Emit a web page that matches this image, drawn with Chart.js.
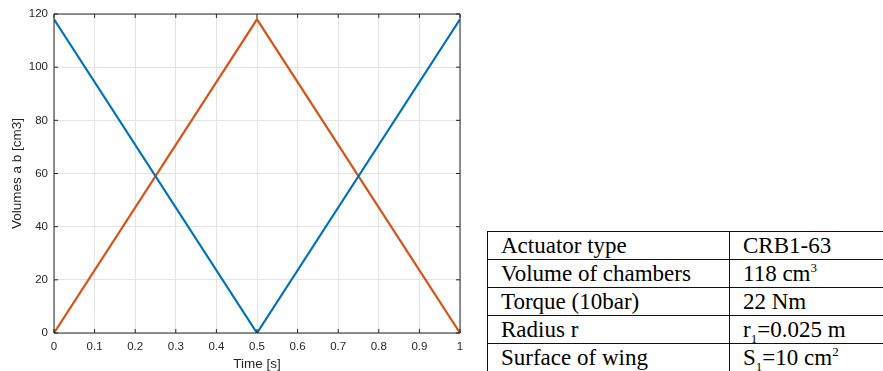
<!DOCTYPE html>
<html>
<head>
<meta charset="utf-8">
<script src="https://cdn.jsdelivr.net/npm/chart.js@4.4.1/dist/chart.umd.min.js"></script>
<style>
    html, body {
        margin: 0;
        padding: 0;
        width: 883px;
        height: 371px;
        overflow: hidden;
        background: #fff;
    }
    #plotBox {
        position: absolute;
        left: 0;
        top: 0;
        width: 471px;
        height: 371px;
    }
    #specs {
        position: absolute;
        left: 487px;
        top: 231px;
        width: 440px;
        border-collapse: collapse;
        font-family: "Liberation Serif", "Times New Roman", serif;
        font-size: 23px;
        color: #000;
    }
    #specs td {
        border: 1.5px solid #111;
        height: 27px;
        padding: 0 0 0 13px;
        line-height: 27px;
        white-space: nowrap;
    }
    #specs td:first-child {
        width: 228px;
    }
    #specs sup, #specs sub {
        font-size: 13px;
        line-height: 0;
    }
</style>
</head>
<body>
<div id="plotBox"><canvas id="volumeView"></canvas></div>
<table id="specs"><tbody id="specsBody"></tbody></table>
<script>
const timeValues = [0, 0.5, 1];
const volumeA = [118, 0, 118];
const volumeB = [0, 118, 0];

const specNames = ["Actuator type", "Volume of chambers", "Torque (10bar)", "Radius r", "Surface of wing"];
const specValues = ["CRB1-63", "118 cm<sup>3</sup>", "22 Nm", "r<sub>1</sub>=0.025 m", "S<sub>1</sub>=10 cm<sup>2</sup>"];

const axisColor = "#262626";
const gridColor = "#e3e3e3";

// table on the right
const body = document.getElementById("specsBody");
specNames.forEach((name, i) => {
    const row = document.createElement("tr");
    row.innerHTML = `<td>${name}</td><td>${specValues[i]}</td>`;
    body.appendChild(row);
});

// box round the plot with inward ticks, matlab style
const boxTicks = {
    id: "boxTicks",
    afterDatasetsDraw(chart) {
        const { ctx, chartArea: a, scales } = chart;
        const len = 4;
        ctx.save();
        ctx.strokeStyle = axisColor;
        ctx.lineWidth = 1;
        ctx.beginPath();
        ctx.rect(a.left, a.top, a.right - a.left, a.bottom - a.top);
        scales.x.ticks.forEach((t) => {
            const px = scales.x.getPixelForValue(t.value);
            ctx.moveTo(px, a.bottom);
            ctx.lineTo(px, a.bottom - len);
            ctx.moveTo(px, a.top);
            ctx.lineTo(px, a.top + len);
        });
        scales.y.ticks.forEach((t) => {
            const py = scales.y.getPixelForValue(t.value);
            ctx.moveTo(a.left, py);
            ctx.lineTo(a.left + len, py);
            ctx.moveTo(a.right, py);
            ctx.lineTo(a.right - len, py);
        });
        ctx.stroke();
        ctx.restore();
    },
};

const tickFont = { family: "'Liberation Sans', Arial, sans-serif", size: 11.5 };
const titleFont = { family: "'Liberation Sans', Arial, sans-serif", size: 13.5, lineHeight: 1 };

new Chart(document.getElementById("volumeView"), {
    type: "line",
    data: {
        labels: timeValues,
        datasets: [
            {
                label: "a",
                data: timeValues.map((t, i) => ({ x: t, y: volumeA[i] })),
                borderColor: "#0072BD",
                borderWidth: 2.2,
                pointRadius: 0,
                tension: 0,
            },
            {
                label: "b",
                data: timeValues.map((t, i) => ({ x: t, y: volumeB[i] })),
                borderColor: "#D95319",
                borderWidth: 2.2,
                pointRadius: 0,
                tension: 0,
            },
        ],
    },
    options: {
        responsive: true,
        maintainAspectRatio: false,
        animation: false,
        layout: {
            padding: { top: 14, right: 11, left: 0, bottom: 0 },
        },
        plugins: {
            legend: { display: false },
            tooltip: { enabled: false },
        },
        scales: {
            x: {
                type: "linear",
                min: 0,
                max: 1,
                afterFit: (scale) => { scale.height = 38; },
                ticks: {
                    stepSize: 0.1,
                    color: axisColor,
                    font: tickFont,
                    padding: 7,
                    maxRotation: 0,
                    callback: (v) => String(Math.round(v * 10) / 10),
                },
                grid: { color: gridColor, drawTicks: false },
                border: { display: false },
                title: {
                    display: true,
                    text: "Time [s]",
                    color: axisColor,
                    font: titleFont,
                    padding: { top: 0, bottom: 0 },
                },
            },
            y: {
                min: 0,
                max: 120,
                afterFit: (scale) => { scale.width = 54; },
                ticks: {
                    stepSize: 20,
                    color: axisColor,
                    font: tickFont,
                    padding: 6,
                },
                grid: { color: gridColor, drawTicks: false },
                border: { display: false },
                title: {
                    display: true,
                    text: "Volumes a b [cm3]",
                    color: axisColor,
                    font: titleFont,
                    padding: { top: 11, bottom: 0 },
                },
            },
        },
    },
    plugins: [boxTicks],
});
</script>
</body>
</html>
